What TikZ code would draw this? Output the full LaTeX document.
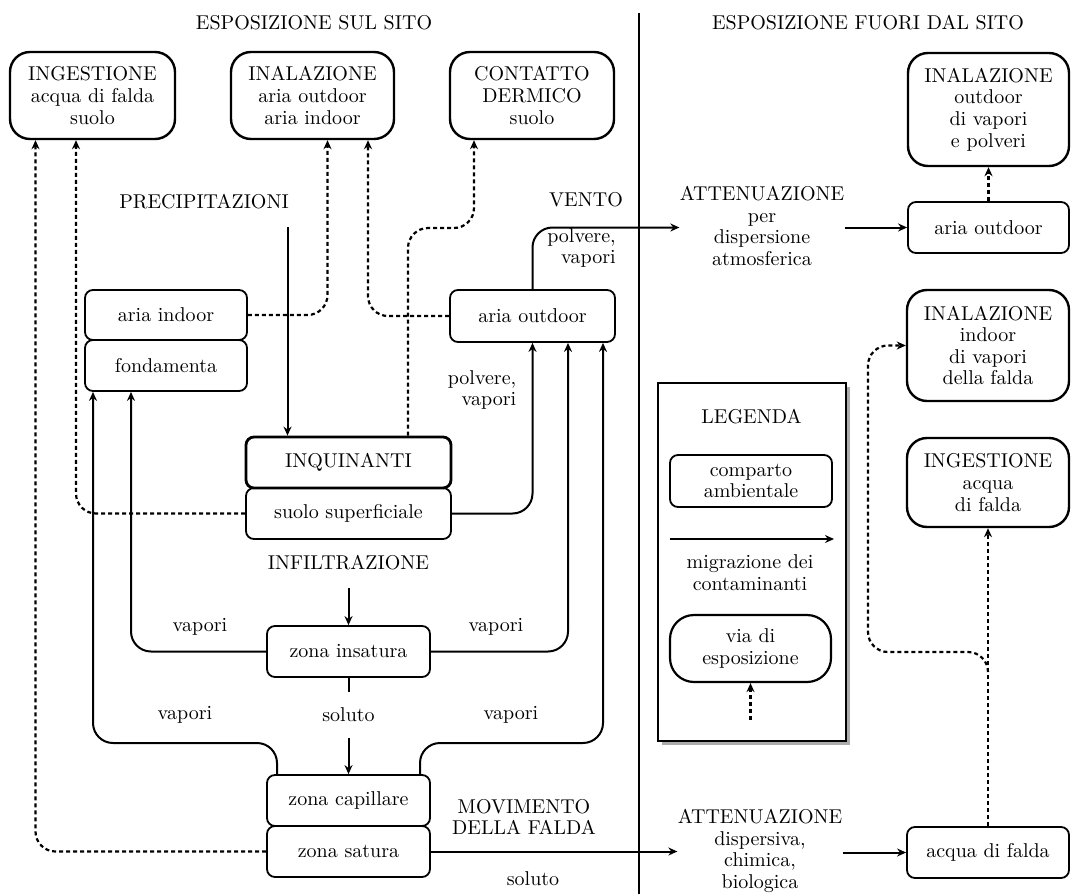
\documentclass[tikz,border=0pt]{standalone}
\usetikzlibrary{arrows.meta}
\newcommand\fs{\fontsize{10}{10.8}\selectfont}
\begin{document}
\begin{tikzpicture}[x=0.5pt,y=-0.5pt,
  every node/.style={font=\fs, inner sep=0pt, align=center},
  expbox/.style={draw, line width=1.2pt, rounded corners=10pt},
  cbox/.style={draw, line width=0.9pt, rounded corners=4pt},
  mig/.style={line width=1pt, -{Stealth[length=4.5pt,width=4pt]}},
  plain/.style={line width=1pt},
  expo/.style={line width=1.1pt, dash pattern=on 2pt off 1.5pt, -{Stealth[length=4.5pt,width=4pt]}},
  rc/.style={rounded corners=10pt}
]
\useasboundingbox (0,0) rectangle (1071,894);
\fill[white] (0,0) rectangle (1071,894);

% helper coordinates
\coordinate (xL1) at (35.5,0);
\coordinate (xL2) at (76,0);
\coordinate (xF1) at (93,0);
\coordinate (xF2) at (131,0);
\coordinate (xI1) at (327.5,0);
\coordinate (xI2) at (368,0);
\coordinate (xC) at (408,0);
\coordinate (xCt) at (474,0);
\coordinate (yc) at (0,228);
\coordinate (xO2) at (568,0);
\coordinate (xO3) at (603,0);
\coordinate (xCL) at (277,0);
\coordinate (xCR) at (420,0);
\coordinate (yl) at (0,743);
\coordinate (xR1) at (868,0);
\coordinate (yb) at (0,652);
\coordinate (ybs) at (0,672);
\coordinate (precTop) at (287.5,227);
\coordinate (infTop) at (348.5,588);
\coordinate (divT) at (639,13);
\coordinate (divB) at (639,894);

% divider
\draw[line width=1pt] (divT) -- (divB);

% headers
\node (hdrL) at (314,23) {ESPOSIZIONE SUL SITO};
\node (hdrR) at (868,23) {ESPOSIZIONE FUORI DAL SITO};

% exposure boxes (on site)
\node[expbox, minimum width=82.5pt, minimum height=43.5pt] (ingS) at (92.5,95.5) {INGESTIONE\\acqua di falda\\suolo};
\node[expbox, minimum width=81.5pt, minimum height=43.5pt] (inalS) at (312.5,95.5) {INALAZIONE\\aria outdoor\\aria indoor};
\node[expbox, minimum width=82pt, minimum height=43.5pt] (cont) at (532,95.5) {CONTATTO\\DERMICO\\suolo};

% exposure boxes (off site)
\node[expbox, minimum width=80.5pt, minimum height=56.5pt] (inalO) at (988.5,109.5) {INALAZIONE\\outdoor\\di vapori\\e polveri};
\node[expbox, minimum width=81pt, minimum height=55.5pt] (inalI) at (988,345.5) {INALAZIONE\\indoor\\di vapori\\della falda};
\node[expbox, minimum width=81pt, minimum height=44.5pt] (ingO) at (988,482.5) {INGESTIONE\\acqua\\di falda};

% compartment boxes
\node[cbox, minimum width=81pt, minimum height=25pt] (ariaIn) at (166,315) {aria indoor};
\node[cbox, minimum width=81pt, minimum height=25.5pt] (fond) at (166,365.5) {fondamenta};
\node[cbox, minimum width=82.5pt, minimum height=26pt] (ariaOut) at (532.5,316) {aria outdoor};
\node[cbox, line width=1.4pt, minimum width=102.5pt, minimum height=25.5pt] (inq) at (348.5,462.5) {INQUINANTI};
\node[cbox, minimum width=102.5pt, minimum height=25.5pt] (suolo) at (348.5,513.5) {suolo superficiale};
\node[cbox, minimum width=81.5pt, minimum height=25.5pt] (zins) at (348.5,651.5) {zona insatura};
\node[cbox, minimum width=81.5pt, minimum height=25.5pt] (zcap) at (348.5,800.5) {zona capillare};
\node[cbox, minimum width=81.5pt, minimum height=25.5pt] (zsat) at (348.5,851.5) {zona satura};
\node[cbox, minimum width=80.5pt, minimum height=25.5pt] (ariaOutR) at (988.5,227.5) {aria outdoor};
\node[cbox, minimum width=81pt, minimum height=25.5pt] (acqua) at (988,852.5) {acqua di falda};

% labels
\node (prec) at (204,202) {PRECIPITAZIONI};
\node (vento) at (586,200) {VENTO};
\node[align=right] (pvU) at (581.5,248) {polvere,\\vapori};
\node[align=right] (pvL) at (482,390) {polvere,\\vapori};
\node[minimum height=16pt] (infil) at (348.5,563) {INFILTRAZIONE};
\node (vap1) at (200,627) {vapori};
\node (vap2) at (496,627) {vapori};
\node (vap3) at (185,715) {vapori};
\node (vap4) at (511,715) {vapori};
\node[minimum height=23pt] (solm) at (348.5,715) {soluto};
\node (solB) at (533,879) {soluto};
\node (mov) at (524,817) {MOVIMENTO\\DELLA FALDA};
\node (att1) at (762,226) {ATTENUAZIONE\\per\\dispersione\\atmosferica};
\node (att2) at (760,851) {ATTENUAZIONE\\dispersiva,\\chimica,\\biologica};

% legend
\fill[gray!65] (662,387) rectangle (850,745);
\node[draw, fill=white, line width=0.6pt, minimum width=94pt, minimum height=179pt] (leg) at (752,562) {};
\node (legenda) at (751.5,417) {LEGENDA};
\node[cbox, minimum width=81pt, minimum height=26pt] (comp) at (751,481) {comparto\\ambientale};
\coordinate (legA) at (670,539);
\coordinate (legB) at (834,539);
\draw[mig] (legA) -- (legB);
\node (migr) at (750,572.5) {migrazione dei\\contaminanti};
\node[draw, line width=1.1pt, rounded corners=12pt, minimum width=80.5pt, minimum height=33.5pt] (via) at (750.5,648.5) {via di\\esposizione};
\coordinate (legD) at (750.5,720);
\draw[expo] (legD) -- (via.south);

% solid migration connectors
\draw[mig] (precTop) -- (inq.north -| precTop);
\draw[mig, rc] (ariaOut.north) |- (att1.west |- ariaOutR.west);
\draw[mig] (att1.east |- ariaOutR.west) -- (ariaOutR.west);
\draw[mig, rc] (suolo.east) -| (ariaOut.south);
\draw[mig, rc] (zins.west) -| (fond.south -| xF2);
\draw[mig, rc] (zins.east) -| (ariaOut.south -| xO2);
\draw[mig, rc] (zcap.north -| xCL) |- (yl -| xF1) -- (fond.south -| xF1);
\draw[mig, rc] (zcap.north -| xCR) |- (yl -| xO3) -- (ariaOut.south -| xO3);
\draw[mig] (infTop) -- (zins.north);
\draw[plain] (zins.south) -- (solm.north);
\draw[mig] (solm.south) -- (zcap.north);
\draw[mig] (zsat.east) -- (zsat.east -| att2.west);
\draw[mig] (att2.east |- acqua.west) -- (acqua.west);

% exposure (dotted) connectors
\draw[expo, rc] (suolo.west) -| (ingS.south -| xL2);
\draw[expo, rc] (zsat.west) -| (ingS.south -| xL1);
\draw[expo, rc] (ariaIn.east) -| (inalS.south -| xI1);
\draw[expo, rc] (ariaOut.west) -| (inalS.south -| xI2);
\draw[expo, rc] (inq.north -| xC) |- (yc -| xCt) -- (cont.south -| xCt);
\draw[expo] (ariaOutR.north) -- (inalO.south);
\draw[expo] (acqua.north) -- (ingO.south);
\draw[expo, rc] (ingO.south |- ybs) |- (yb -| xR1) |- (inalI.west);
\end{tikzpicture}
\end{document}
